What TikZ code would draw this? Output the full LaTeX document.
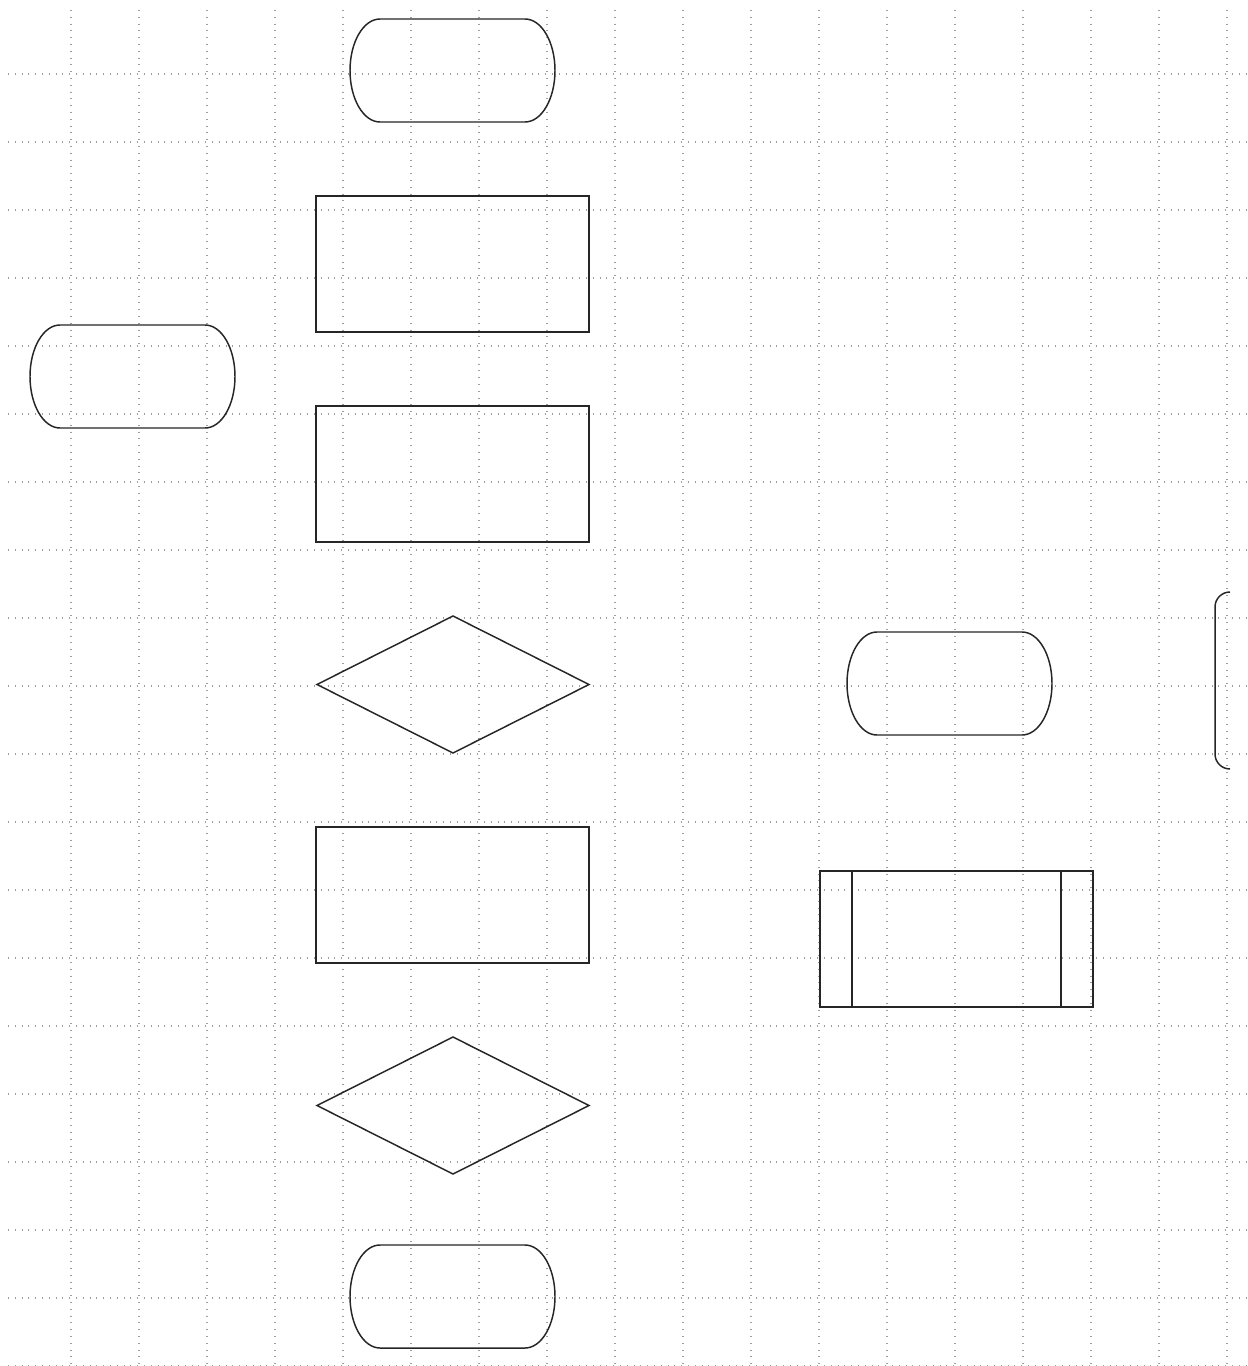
\documentclass[tikz,border=0pt]{standalone}
\usetikzlibrary{shapes.geometric,calc}
\tikzset{
  gridline/.style={draw=black!38, line width=0.8pt, dash pattern=on 0.75pt off 4.35pt},
  shp/.style={draw=black!85, line width=1.1pt, fill=none},
  termbox/.style={inner sep=0pt, outer sep=0pt, minimum width=153.75pt, minimum height=77.25pt},
  procbox/.style={shp, rectangle, inner sep=0pt, outer sep=0pt, minimum width=204.75pt, minimum height=102pt},
  decbox/.style={shp, diamond, inner sep=0pt, outer sep=0pt, minimum width=204pt, minimum height=102.75pt},
  termline/.style={shp}
}
\newcommand{\termshape}[3]{%
  \node[termbox] (#1) at (#2,#3) {};
  \draw[termline] ([xshift=-22.5pt]#1.north east)
     arc[start angle=90, end angle=-90, x radius=30, y radius=51.5]
     -- ([xshift=22.5pt]#1.south west)
     arc[start angle=270, end angle=90, x radius=30, y radius=51.5]
     -- cycle;}
\begin{document}
\begin{tikzpicture}[x=0.75pt, y=0.75pt]
\useasboundingbox (0,0) rectangle (1248,-1366);
\fill[white] (0,0) rectangle (1248,-1366);
% grid
\foreach \gx in {71,139,...,1247} \draw[gridline] (\gx,-10) -- (\gx,-1366);
\foreach \gy in {74,142,...,1366} \draw[gridline] (8,-\gy) -- (1248,-\gy);
% main column
\termshape{start}{452.5}{-70.5}
\node[procbox] (p1) at (452.5,-264) {};
\node[procbox] (p2) at (452.5,-474) {};
\node[decbox] (d1) at (453,-684.5) {};
\node[procbox] (p3) at (452.5,-895) {};
\node[decbox] (d2) at (453,-1105.5) {};
\termshape{stop}{452.5}{-1296.5}
% left terminal
\termshape{side}{132.5}{-376.5}
% right group
\termshape{rterm}{949.5}{-683.5}
\node[procbox] (sub) at (956.5,-939) {};
\draw[shp] ([xshift=24pt]sub.north west) -- ([xshift=24pt]sub.south west);
\draw[shp] ([xshift=-24pt]sub.north east) -- ([xshift=-24pt]sub.south east);
% partial shape at right edge
\coordinate (edgeTop) at (1230,-592);
\draw[shp] (edgeTop) arc[start angle=90, end angle=180, radius=15]
  -- (1215,-754) arc[start angle=180, end angle=270, radius=15];
\end{tikzpicture}
\end{document}
